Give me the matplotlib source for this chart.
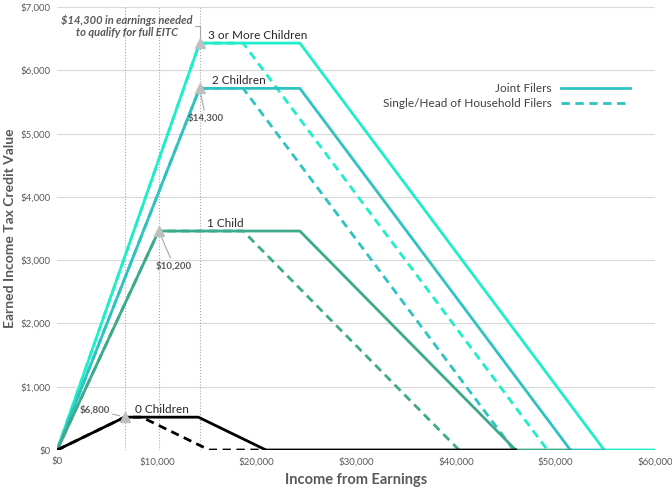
import numpy as np
import matplotlib.pyplot as plt

# EITC schedule (tax year 2018)
x_joint_0 = [0, 6780, 14170, 20950, 46010]
y_joint_0 = [0, 519, 519, 0, 0]
x_single_0 = [0, 6780, 8490, 15270, 20950]
y_single_0 = [0, 519, 519, 0, 0]

x_joint_1 = [0, 10180, 24350, 46010, 51492]
y_joint_1 = [0, 3461, 3461, 0, 0]
x_single_1 = [0, 10180, 18660, 40320]
y_single_1 = [0, 3461, 3461, 0]

x_joint_2 = [0, 14290, 24350, 51492, 54884]
y_joint_2 = [0, 5716, 5716, 0, 0]
x_single_2 = [0, 14290, 18660, 45802]
y_single_2 = [0, 5716, 5716, 0]

x_joint_3 = [0, 14290, 24350, 54884, 60000]
y_joint_3 = [0, 6431, 6431, 0, 0]
x_single_3 = [0, 14290, 18660, 49194]
y_single_3 = [0, 6431, 6431, 0]

ref_x = [6800, 10200, 14300]
marker_x = [6800, 10200, 14300, 14300]
marker_y = [519, 3461, 5716, 6431]

c3 = '#20EEC8'
c2 = '#2EC3C1'
c1 = '#3CAA8B'
c0 = 'black'
txt = '#595959'

plt.rcParams['font.family'] = ['Lato', 'DejaVu Sans']

fig = plt.figure(figsize=(6.72, 4.91), dpi=100)
ax = fig.add_axes([0.085, 0.0835, 0.89, 0.902])

for yy in range(1000, 8000, 1000):
    ax.axhline(yy, color='#D9D9D9', lw=0.8, zorder=0)
for xv in ref_x:
    ax.axvline(xv, color='#A6A6A6', ls=':', lw=0.8, zorder=1)

lw = 2
ax.plot(x_joint_3, y_joint_3, color=c3, lw=lw, zorder=2)
ax.plot(x_single_3, y_single_3, color=c3, lw=lw, ls='--', dashes=(3, 2), zorder=2)
ax.plot(x_joint_2, y_joint_2, color=c2, lw=lw, zorder=3)
ax.plot(x_single_2, y_single_2, color=c2, lw=lw, ls='--', dashes=(3, 2), zorder=3)
ax.plot(x_joint_1, y_joint_1, color=c1, lw=lw, zorder=4)
ax.plot(x_single_1, y_single_1, color=c1, lw=lw, ls='--', dashes=(3, 2), zorder=4)
ax.plot(x_single_0, y_single_0, color=c0, lw=lw, ls='--', dashes=(3, 2), zorder=5)
ax.plot(x_joint_0, y_joint_0, color=c0, lw=lw, zorder=5)

ax.plot(marker_x, marker_y, '^', color='#BFBFBF', ms=7, ls='none', zorder=6)

# legend proxies
lj, = ax.plot([], [], color=c2, lw=lw, label='Joint Filers')
ls_, = ax.plot([], [], color=c2, lw=lw, ls='--', dashes=(3, 2), label='Single/Head of Household Filers')
leg = ax.legend(handles=[lj, ls_], loc='upper right', bbox_to_anchor=(0.975, 0.853),
                markerfirst=False, frameon=False, fontsize=8.5, handlelength=5.8,
                labelspacing=0.35)
for t in leg.get_texts():
    t.set_color('#404040')

# series labels
ax.text(15100, 6470, '3 or More Children', fontsize=8.5, color='#262626', ha='left', va='bottom')
ax.text(15500, 5750, '2 Children', fontsize=8.5, color='#262626', ha='left', va='bottom')
ax.text(15000, 3495, '1 Child', fontsize=8.5, color='#262626', ha='left', va='bottom')
ax.text(7800, 550, '0 Children', fontsize=8.5, color='#262626', ha='left', va='bottom')

# point annotations
ann = dict(arrowstyle='-', color='#A6A6A6', lw=0.8, shrinkA=0, shrinkB=4)
ax.annotate('$6,800', xy=(6800, 519), xytext=(5300, 640), fontsize=7, color=txt,
            fontweight='bold', ha='right', va='center', arrowprops=ann)
ax.annotate('$10,200', xy=(10200, 3461), xytext=(11700, 2990), fontsize=7, color=txt,
            fontweight='bold', ha='center', va='top', arrowprops=ann)
ax.annotate('$14,300', xy=(14300, 5716), xytext=(14900, 5330), fontsize=7, color=txt,
            fontweight='bold', ha='center', va='top', arrowprops=ann)
ax.annotate('$14,300 in earnings needed\nto qualify for full EITC', xy=(14300, 6431),
            xytext=(7000, 6700), fontsize=8, color=txt, fontweight='bold',
            fontstyle='italic', ha='center', va='center', linespacing=1.1,
            arrowprops=dict(arrowstyle='-', color='#A6A6A6', lw=0.8, shrinkA=0, shrinkB=4,
                            connectionstyle='angle,angleA=0,angleB=90,rad=0'))

ax.set_xlim(0, 60000)
ax.set_ylim(0, 7000)
ax.set_xticks(np.arange(0, 60001, 10000))
ax.set_yticks(np.arange(0, 7001, 1000))
ax.set_xticklabels(['$0' if v == 0 else f'${v:,}' for v in range(0, 60001, 10000)])
ax.set_yticklabels(['$0' if v == 0 else f'${v:,}' for v in range(0, 7001, 1000)])
ax.tick_params(length=0, labelsize=7, labelcolor=txt, pad=5)
for s in ax.spines.values():
    s.set_visible(False)

ax.set_xlabel('Income from Earnings', fontsize=10.5, fontweight='bold', color=txt, labelpad=5)
ax.set_ylabel('Earned Income Tax Credit Value', fontsize=10, fontweight='bold', color=txt)
ax.yaxis.set_label_coords(-0.068, 0.5)

fig.savefig('out.png', dpi=100)
